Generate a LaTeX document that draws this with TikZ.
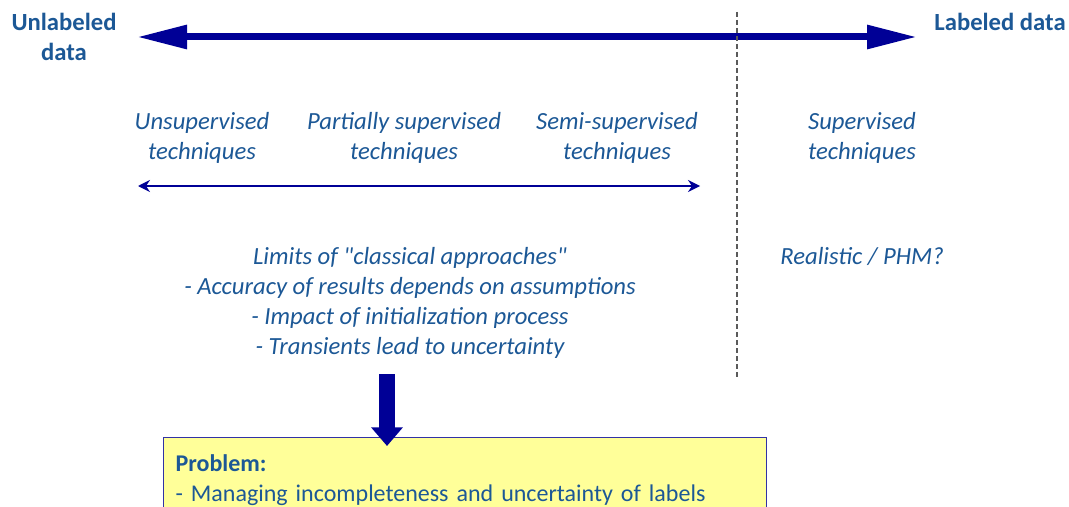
\documentclass[tikz,border=0pt]{standalone}
\usepackage{fontspec}
\setmainfont{Carlito}[Ligatures=TeXOff]
\usetikzlibrary{arrows.meta,positioning}
\definecolor{labblue}{RGB}{28,88,150}
\definecolor{arrownavy}{RGB}{0,0,150}
\definecolor{probfill}{RGB}{255,255,153}
\definecolor{probline}{RGB}{50,50,165}
\definecolor{sepgray}{RGB}{90,90,90}
\newcommand{\diagfont}{\fontsize{18.5}{22.5}\selectfont}
\newcommand{\boxfont}{\fontsize{18}{22.5}\selectfont}

\begin{document}
\begin{tikzpicture}[x=0.75pt, y=-0.75pt,
  edge/.style={font=\diagfont\bfseries, text=labblue, align=center},
  tech/.style={font=\diagfont\itshape, text=labblue, align=center},
  probbox/.style={draw=probline, fill=probfill, line width=0.9pt, font=\boxfont, text=labblue,
    text width=434pt, align=left, inner xsep=9pt, inner ysep=13pt, anchor=north west},
  bigarrow/.style={draw=arrownavy, line width=5.25pt,
    {Triangle[length=37.5pt,width=17pt]}-{Triangle[length=37.5pt,width=17pt]}},
  thinarrow/.style={draw=arrownavy, line width=1.1pt,
    {Stealth[length=9pt,width=9pt,inset=3pt]}-{Stealth[length=9pt,width=9pt,inset=3pt]}},
  droparrow/.style={draw=arrownavy, line width=12pt, -{Triangle[length=14pt,width=23pt]}},
  sepline/.style={draw=sepgray, line width=0.9pt, dash pattern=on 3.5pt off 2.5pt}]
\useasboundingbox (0,0) rectangle (1069,506);
\clip (0,0) rectangle (1069,506);

% ends of the data axis
\node[edge] (unlab) at (64,37) {Unlabeled\\data};
\node[edge] (lab) at (1000,22) {Labeled data};
\coordinate (spanL) at (137,37);
\coordinate (spanR) at (917,37);
\draw[bigarrow] (spanL) -- (spanR);

% separation supervised / rest
\draw[sepline] (737,12) -- (737,377);

% families of techniques
\node[tech] (unsup) at (202,138) {Unsupervised\\techniques};
\node[tech] (partial) at (404,138) {Partially supervised\\techniques};
\node[tech] (semi) at (617,138) {Semi-supervised\\techniques};
\node[tech] (sup) at (862,138) {Supervised\\techniques};
\coordinate (rangeL) at (138,186);
\coordinate (rangeR) at (700,186);
\draw[thinarrow] (rangeL) -- (rangeR);

\node[tech] (limits) at (410,302.5) {Limits of "classical approaches"\\- Accuracy of results depends on assumptions\\- Impact of initialization process\\- Transients lead to uncertainty};
\node[tech] (real) at (862,256) {Realistic / PHM?};

% problem statement
\node[probbox] (prob) at (163,437) {\textbf{Problem:}\\- Managing incompleteness and uncertainty of labels};
\coordinate (dropTop) at (387,374);
\coordinate (dropTip) at (387,446);
\draw[droparrow] (dropTop) -- (dropTip);
\end{tikzpicture}
\end{document}
